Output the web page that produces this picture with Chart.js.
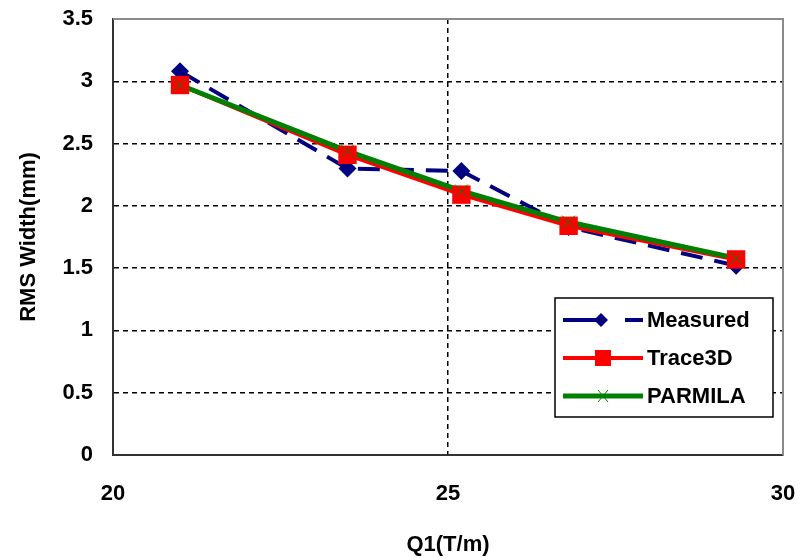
<!DOCTYPE html>
<html>
<head>
<meta charset="utf-8">
<script src="https://cdn.jsdelivr.net/npm/chart.js@4/dist/chart.umd.min.js"></script>
<style>
  html, body { margin: 0; padding: 0; background: #fff; }
  #wrap { width: 807px; height: 558px; position: relative; }
</style>
</head>
<body>
<div id="wrap"><canvas id="c"></canvas></div>
<script>
const q1 = [21, 23.5, 25.2, 26.8, 29.3]
const measured = [3.08, 2.30, 2.28, 1.83, 1.52]
const trace3d = [2.97, 2.41, 2.09, 1.84, 1.57]
const parmila = [2.97, 2.44, 2.12, 1.87, 1.58]
const xTicks = [20, 25, 30]
const yTicks = [0, 0.5, 1, 1.5, 2, 2.5, 3, 3.5]

const navy = '#000080'
const red = '#FF0000'
const green = '#008000'
const gridColor = '#000000'
const fontFamily = "'Liberation Sans', Arial, sans-serif"
const tickFont = { family: fontFamily, size: 22, weight: 'bold' }

const toPoints = (ys) => q1.map((x, i) => ({ x: x, y: ys[i] }))

// legend rows, drawn by hand in the plugin below
const legendRows = [
  { label: 'Measured', color: navy, marker: 'diamond', dashed: true },
  { label: 'Trace3D', color: red, marker: 'square' },
  { label: 'PARMILA', color: green, marker: 'cross' }
]

const drawMarker = (ctx, kind, x, y, color) => {
  ctx.save()
  ctx.fillStyle = color
  ctx.strokeStyle = color
  if (kind === 'diamond') {
    ctx.beginPath()
    ctx.moveTo(x, y - 7); ctx.lineTo(x + 7, y); ctx.lineTo(x, y + 7); ctx.lineTo(x - 7, y)
    ctx.closePath()
    ctx.fill()
  } else if (kind === 'square') {
    ctx.fillRect(x - 8, y - 8, 16, 16)
  } else {
    ctx.lineWidth = 1
    ctx.beginPath()
    ctx.moveTo(x - 5, y - 6); ctx.lineTo(x + 5, y + 6)
    ctx.moveTo(x + 5, y - 6); ctx.lineTo(x - 5, y + 6)
    ctx.stroke()
  }
  ctx.restore()
}

const framePlugin = {
  id: 'frame',
  afterDraw(chart) {
    const ctx = chart.ctx
    const a = chart.chartArea
    // top and right frame
    ctx.save()
    ctx.strokeStyle = '#8a8a8a'
    ctx.lineWidth = 2
    ctx.beginPath()
    ctx.moveTo(a.left, a.top)
    ctx.lineTo(a.right, a.top)
    ctx.lineTo(a.right, a.bottom)
    ctx.stroke()
    ctx.restore()

    // legend box
    const bx = a.right - 228, by = a.top + 279, bw = 218, bh = 119
    ctx.save()
    ctx.fillStyle = '#fff'
    ctx.fillRect(bx, by, bw, bh)
    ctx.strokeStyle = '#000'
    ctx.lineWidth = 1.5
    ctx.strokeRect(bx, by, bw, bh)
    ctx.font = 'bold 22px ' + fontFamily
    ctx.textBaseline = 'middle'
    legendRows.forEach((row, i) => {
      const y = by + 22 + i * 38
      const x0 = bx + 8, x1 = bx + 88
      ctx.strokeStyle = row.color
      ctx.lineWidth = row.marker === 'cross' ? 5 : 4
      ctx.beginPath()
      if (row.dashed) {
        ctx.moveTo(x0, y); ctx.lineTo(x0 + 38, y)
        ctx.moveTo(x0 + 62, y); ctx.lineTo(x1, y)
      } else {
        ctx.moveTo(x0, y); ctx.lineTo(x1, y)
      }
      ctx.stroke()
      drawMarker(ctx, row.marker, row.dashed ? x0 + 38 : (x0 + x1) / 2, y, row.color)
      ctx.fillStyle = '#000'
      ctx.fillText(row.label, x1 + 4, y + 1)
    })
    ctx.restore()
  }
}

// lines first (red under green), then markers on top
const config = {
  type: 'line',
  data: {
    datasets: [
      {
        label: 'Measured',
        data: toPoints(measured),
        borderColor: navy,
        backgroundColor: navy,
        borderWidth: 4,
        borderDash: [22, 12],
        pointStyle: 'rectRot',
        pointRadius: 9,
        pointBorderWidth: 0,
        order: 5
      },
      {
        label: 'Trace3D line',
        data: toPoints(trace3d),
        borderColor: red,
        borderWidth: 4,
        pointRadius: 0,
        order: 4
      },
      {
        label: 'PARMILA line',
        data: toPoints(parmila),
        borderColor: green,
        borderWidth: 5,
        pointRadius: 0,
        order: 3
      },
      {
        label: 'Trace3D',
        data: toPoints(trace3d),
        showLine: false,
        borderColor: red,
        backgroundColor: red,
        pointStyle: 'rect',
        pointRadius: 13,
        pointBorderWidth: 0,
        order: 2
      },
      {
        label: 'PARMILA',
        data: toPoints(parmila),
        showLine: false,
        borderColor: green,
        pointStyle: 'crossRot',
        pointRadius: 9,
        pointBorderWidth: 1,
        order: 1
      }
    ]
  },
  options: {
    responsive: true,
    maintainAspectRatio: false,
    animation: false,
    layout: { padding: { top: 19, right: 24, left: 0, bottom: 0 } },
    plugins: {
      legend: { display: false },
      tooltip: { enabled: false }
    },
    scales: {
      x: {
        type: 'linear',
        min: 20,
        max: 30,
        afterBuildTicks: (s) => { s.ticks = xTicks.map(v => ({ value: v })) },
        afterFit: (s) => { s.height = 103; s.paddingLeft = 0; s.paddingRight = 0 },
        ticks: { font: tickFont, color: '#000', padding: 26, maxRotation: 0, callback: (v) => String(v) },
        grid: {
          drawTicks: false,
          lineWidth: 1.5,
          color: (c) => (c.tick && c.tick.value === 25) ? gridColor : 'transparent'
        },
        border: { color: '#333', width: 2, dash: [5, 4] },
        title: { display: true, text: 'Q1(T/m)', font: tickFont, color: '#000', padding: { top: 16, bottom: 0 } }
      },
      y: {
        min: 0,
        max: 3.5,
        afterBuildTicks: (s) => { s.ticks = yTicks.map(v => ({ value: v })) },
        afterFit: (s) => { s.width = 113; s.paddingTop = 0; s.paddingBottom = 0 },
        ticks: { font: tickFont, color: '#000', padding: 20, callback: (v) => String(v) },
        grid: {
          drawTicks: false,
          lineWidth: 1.5,
          color: (c) => (c.tick && c.tick.value > 0 && c.tick.value < 3.5) ? gridColor : 'transparent'
        },
        border: { color: '#333', width: 2, dash: [5, 4] },
        title: { display: true, text: 'RMS Width(mm)', font: tickFont, color: '#000', padding: { top: 16, bottom: 0 } }
      }
    }
  },
  plugins: [framePlugin]
}

new Chart(document.getElementById('c'), config)
</script>
</body>
</html>
